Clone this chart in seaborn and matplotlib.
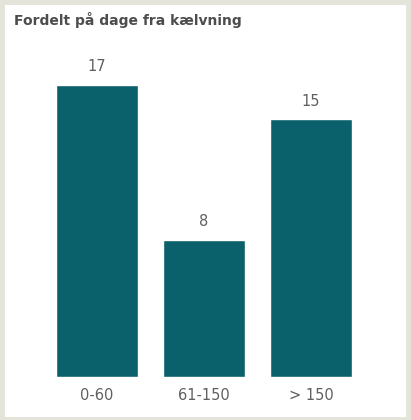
import matplotlib
matplotlib.use("Agg")
import matplotlib.pyplot as plt
import seaborn as sns
import pandas as pd
from matplotlib.patches import Rectangle

# data
categories = ["0-60", "61-150", "> 150"]
counts = [17, 8, 15]
title = "Fordelt på dage fra kælvning"

df = pd.DataFrame({"dage": categories, "antal": counts})

sns.set_style("white")
plt.rcParams['font.family'] = ['DejaVu Sans']

W, H = 411, 420
fig = plt.figure(figsize=(W / 100, H / 100), dpi=100)
fig.patch.set_facecolor("#e4e4da")

# white card behind everything
card = Rectangle((5 / W, 3 / H), (406 - 5) / W, (415 - 3) / H,
                 transform=fig.transFigure, facecolor="white", edgecolor="none", zorder=-5)
fig.patches.append(card)

# axes: x centers 97,204,311 px ; baseline y=377, 17 -> y=85
x0 = 97 - 53.5
x1 = 311 + 53.5
y_base = 377
px_per_unit = (377 - 85) / 17
ymax = 19
y_top = y_base - ymax * px_per_unit
ax = fig.add_axes([x0 / W, (H - y_base) / H, (x1 - x0) / W, (y_base - y_top) / H])
ax.set_facecolor("none")
ax.set_zorder(2)

sns.barplot(data=df, x="dage", y="antal", color="#0a616c", saturation=1,
            width=0.766, ax=ax)
ax.set_ylim(0, ymax)
ax.set_xlim(-0.5, 2.5)

for i, v in enumerate(counts):
    ax.text(i, v + 0.62, str(v), ha="center", va="bottom", fontsize=10.5, color="#606060")

ax.set_xlabel("")
ax.set_ylabel("")
ax.set_yticks([])
ax.tick_params(axis="x", length=0, pad=8, labelsize=10.5, labelcolor="#606060")
sns.despine(ax=ax, left=True, bottom=True)

fig.text(14 / W, 1 - 20 / H, title, ha="left", va="center", fontsize=10,
         fontweight="bold", color="#4d4d4d")

fig.savefig("out.png", dpi=100, facecolor=fig.get_facecolor())
